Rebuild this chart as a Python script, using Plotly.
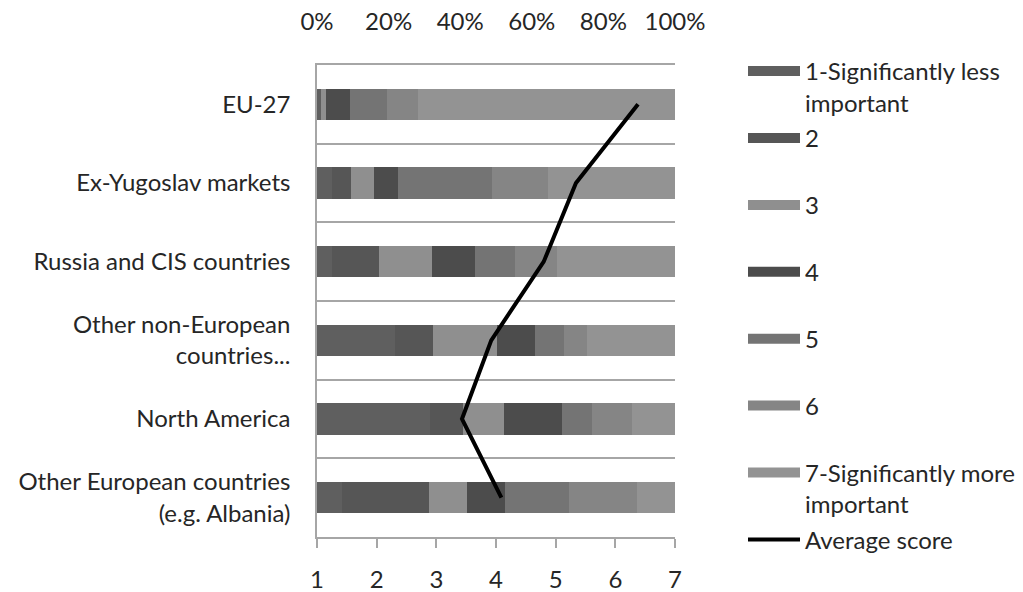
import plotly.graph_objects as go

categories = ["EU-27", "Ex-Yugoslav markets", "Russia and CIS countries",
              "Other non-European<br>countries...", "North America",
              "Other European countries<br>(e.g. Albania)"]
series_names = ["1-Significantly less<br>important", "2<br> ", "3<br> ", "4<br> ",
                "5<br> ", "6<br> ", "7-Significantly more<br>important"]
# shares (fraction of respondents) per score, one list per score level
s1 = [0.011, 0.042, 0.042, 0.219, 0.316, 0.070]
s2 = [0.000, 0.053, 0.132, 0.105, 0.093, 0.244]
s3 = [0.015, 0.065, 0.147, 0.179, 0.112, 0.105]
s4 = [0.065, 0.065, 0.119, 0.107, 0.163, 0.107]
s5 = [0.104, 0.263, 0.113, 0.081, 0.084, 0.177]
s6 = [0.088, 0.158, 0.116, 0.063, 0.112, 0.191]
s7 = [0.717, 0.354, 0.331, 0.246, 0.120, 0.106]
average_score = [6.38, 5.34, 4.80, 3.92, 3.43, 4.09]
pct_ticks = [0, 0.2, 0.4, 0.6, 0.8, 1.0]
score_ticks = [1, 2, 3, 4, 5, 6, 7]

colors = ["#5f5f5f", "#565656", "#8f8f8f", "#4c4c4c", "#747474", "#858585", "#939393"]

FONT = "Lato"
FS = 24
GRID = "#a6a6a6"
fig = go.Figure()
for name, vals, col in zip(series_names, [s1, s2, s3, s4, s5, s6, s7], colors):
    fig.add_trace(go.Bar(
        y=categories, x=vals, name=name, orientation="h",
        marker=dict(color=col, line=dict(width=0)), width=0.4,
        xaxis="x", yaxis="y", legendgroup=name, showlegend=False,
    ))
    # legend swatch (wide bar-like key, as in the original legend)
    fig.add_trace(go.Scatter(
        x=[None], y=[None], name=name, mode="lines",
        line=dict(color=col, width=14), legendgroup=name, showlegend=True,
        xaxis="x", yaxis="y",
    ))
fig.add_trace(go.Scatter(
    y=categories, x=average_score, name="Average score", mode="lines",
    line=dict(color="black", width=4), xaxis="x2", yaxis="y",
    legendgroup="avg",
))

fig.update_layout(
    width=1023, height=592,
    margin=dict(l=317, r=348, t=65, b=55, autoexpand=False),
    paper_bgcolor="white", plot_bgcolor="white",
    barmode="stack", bargap=0.6,
    font=dict(family=FONT, size=FS, color="#262626"),
    xaxis=dict(side="top", range=[0, 1], tickvals=pct_ticks, tickformat=".0%",
               showgrid=False, zeroline=False, showline=True, linecolor=GRID,
               linewidth=1.5, ticks="", ticklabelstandoff=24, fixedrange=True),
    xaxis2=dict(overlaying="x", side="bottom", range=[1, 7], tickvals=score_ticks,
                showgrid=False, zeroline=False, showline=True, linecolor=GRID,
                linewidth=1.5, ticks="outside", ticklen=9, tickcolor=GRID, tickwidth=1.5,
                ticklabelstandoff=11, anchor="y"),
    yaxis=dict(type="category", categoryorder="array", categoryarray=categories,
               autorange="reversed", showgrid=True, gridcolor=GRID, gridwidth=1.5,
               tickson="boundaries", ticks="", showline=True, linecolor=GRID,
               linewidth=1.5, ticklabelstandoff=20),
    legend=dict(x=(743 - 317) / 358, xanchor="left", xref="paper",
                y=(537 - 49) / 472, yanchor="top", yref="paper",
                valign="top", tracegroupgap=1.5, itemwidth=52, maxheight=580,
                font=dict(family=FONT, size=FS, color="#262626"),
                bgcolor="rgba(0,0,0,0)"),
    showlegend=True,
)
fig.write_html("out.html")
